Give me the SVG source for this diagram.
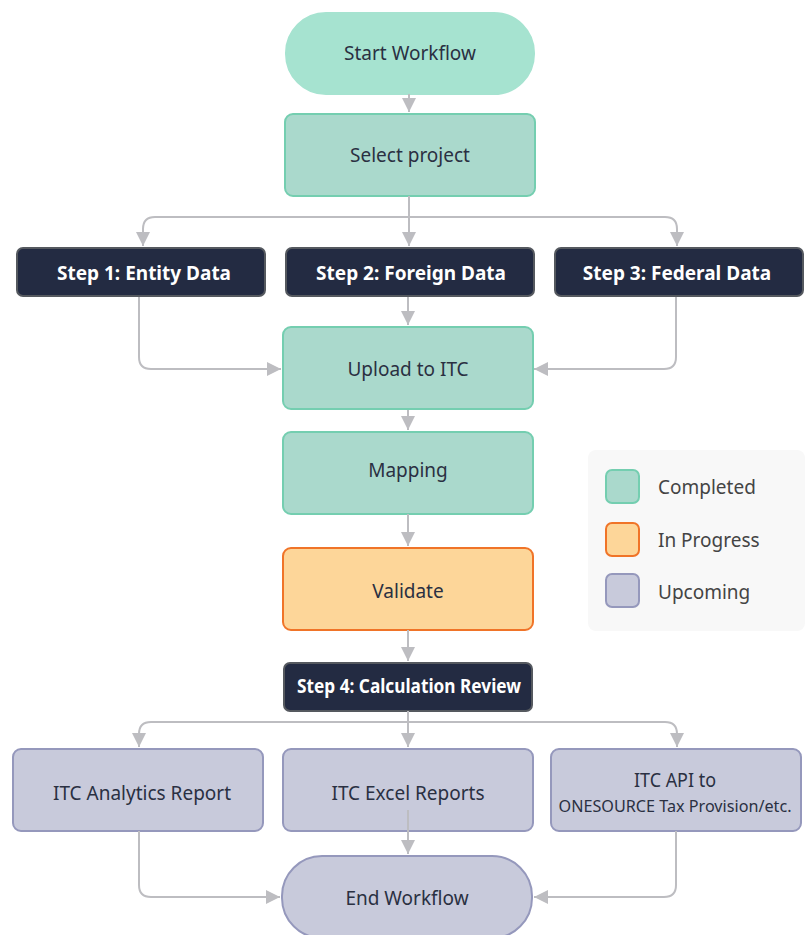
<svg xmlns="http://www.w3.org/2000/svg" width="809" height="935" viewBox="0 0 809 935">
<style>
text{font-family:"Noto Sans","Open Sans",sans-serif;font-size:19px;fill:#2a3042;text-anchor:middle;dominant-baseline:central}
.done{fill:#aad9cc;stroke:#74ceb0;stroke-width:2}
.start{fill:#a6e3d0;stroke:#a6e3d0;stroke-width:2}
.prog{fill:#fdd699;stroke:#f07428;stroke-width:2}
.up{fill:#c8cadb;stroke:#9598bc;stroke-width:2}
.dark{fill:#232b42;stroke:#55595f;stroke-width:2}
.dt{fill:#ffffff;font-weight:bold}
.conn{fill:none;stroke:#bdbdc1;stroke-width:2}
.lg{fill:#444;text-anchor:start}
</style>
<defs>
<marker id="ah" viewBox="0 0 10 10" refX="10" refY="5" markerWidth="7" markerHeight="7" markerUnits="strokeWidth" orient="auto">
<path d="M0,0 L10,5 L0,10 Z" fill="#bdbdc1"/>
</marker>
</defs>
<g id="legend">
<rect x="588" y="450" width="217" height="181" rx="8" fill="#f8f8f8"/>
<rect class="done" x="606" y="470" width="33" height="33" rx="6"/>
<rect class="prog" x="606" y="523" width="33" height="33" rx="6"/>
<rect class="up" x="606" y="574" width="33" height="33" rx="6"/>
<text class="lg" x="658" y="487">Completed</text>
<text class="lg" x="658" y="540">In Progress</text>
<text class="lg" x="658" y="592">Upcoming</text>
</g>
<g id="start"><rect class="start" x="286" y="13" width="248" height="81" rx="40"/><text x="410" y="53">Start Workflow</text></g>
<g id="select"><rect class="done" x="285" y="114" width="250" height="82" rx="8"/><text x="410" y="155">Select project</text></g>
<g id="step1"><rect class="dark" x="17" y="248" width="248" height="48" rx="6"/><text class="dt" x="144" y="273">Step 1: Entity Data</text></g>
<g id="step2"><rect class="dark" x="286" y="248" width="248" height="48" rx="6"/><text class="dt" x="411" y="273">Step 2: Foreign Data</text></g>
<g id="step3"><rect class="dark" x="555" y="248" width="248" height="48" rx="6"/><text class="dt" x="677" y="273">Step 3: Federal Data</text></g>
<g id="upload"><rect class="done" x="283" y="327" width="250" height="82" rx="8"/><text x="408" y="369">Upload to ITC</text></g>
<g id="mapping"><rect class="done" x="283" y="432" width="250" height="82" rx="8"/><text x="408" y="470">Mapping</text></g>
<g id="validate"><rect class="prog" x="283" y="548" width="250" height="82" rx="8"/><text x="408" y="591">Validate</text></g>
<g id="step4"><rect class="dark" x="284" y="663" width="248" height="48" rx="6"/><text class="dt" x="409" y="686" textLength="224" lengthAdjust="spacingAndGlyphs">Step 4: Calculation Review</text></g>
<g id="analytics"><rect class="up" x="13" y="749" width="250" height="82" rx="8"/><text x="142" y="793">ITC Analytics Report</text></g>
<g id="excel"><rect class="up" x="283" y="749" width="250" height="82" rx="8"/><text x="408" y="793">ITC Excel Reports</text></g>
<g id="api"><rect class="up" x="551" y="749" width="250" height="82" rx="8"/><text x="675" y="780" textLength="82" lengthAdjust="spacingAndGlyphs">ITC API to</text><text x="675" y="805" style="font-size:17px" textLength="233" lengthAdjust="spacingAndGlyphs">ONESOURCE Tax Provision/etc.</text></g>
<g id="end"><rect class="up" x="282" y="856" width="250" height="82" rx="40"/><text x="407" y="898">End Workflow</text></g>
<g id="connectors">
<path class="conn" d="M409,94 V112" marker-end="url(#ah)"/>
<path class="conn" d="M409,196 V246"  marker-end="url(#ah)"/>
<path class="conn" d="M409,217 H155 Q143,217 143,229 V246" marker-end="url(#ah)"/>
<path class="conn" d="M409,217 H665 Q677,217 677,229 V246" marker-end="url(#ah)"/>
<path class="conn" d="M408,297 V325" marker-end="url(#ah)"/>
<path class="conn" d="M139,297 V357 Q139,369 151,369 H281" marker-end="url(#ah)"/>
<path class="conn" d="M676,297 V357 Q676,369 664,369 H534" marker-end="url(#ah)"/>
<path class="conn" d="M408,410 V430" marker-end="url(#ah)"/>
<path class="conn" d="M408,514 V546" marker-end="url(#ah)"/>
<path class="conn" d="M408,630 V661" marker-end="url(#ah)"/>
<path class="conn" d="M408,711 V747" marker-end="url(#ah)"/>
<path class="conn" d="M408,722 H151 Q139,722 139,734 V747" marker-end="url(#ah)"/>
<path class="conn" d="M408,722 H665 Q677,722 677,734 V747" marker-end="url(#ah)"/>
<path class="conn" d="M408,810 V854" marker-end="url(#ah)"/>
<path class="conn" d="M139,831 V885 Q139,897 151,897 H280" marker-end="url(#ah)"/>
<path class="conn" d="M676,831 V885 Q676,897 664,897 H534" marker-end="url(#ah)"/>
</g>
</svg>
